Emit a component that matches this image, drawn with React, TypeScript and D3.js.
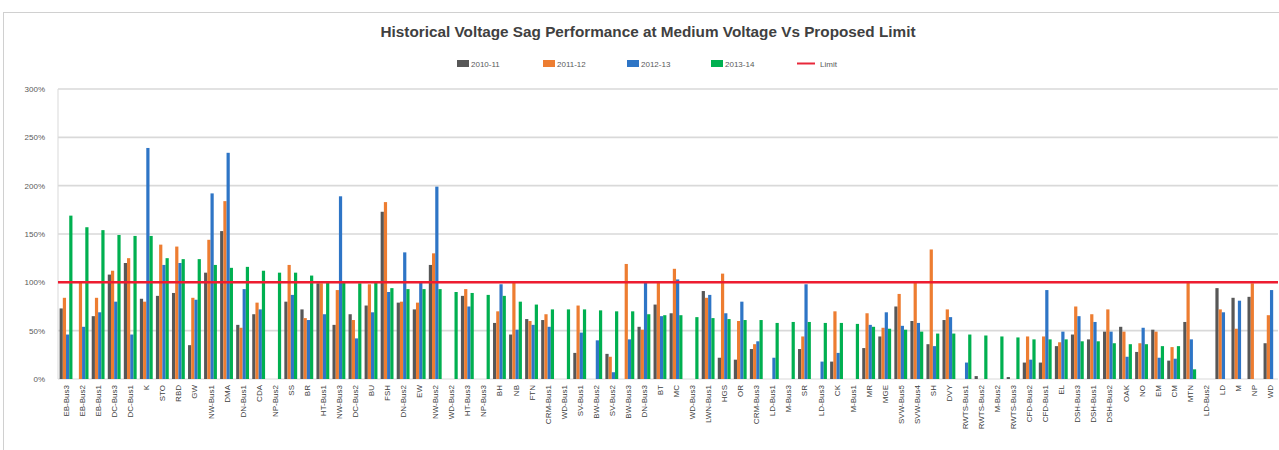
import React from "react";
import * as d3 from "d3";

const categories = [
  "EB-Bus3","EB-Bus2","EB-Bus1","DC-Bus3","DC-Bus1","K","STO","RBD","GW","NW-Bus1",
  "DMA","DN-Bus1","CDA","NP-Bus2","SS","BR","HT-Bus1","NW-Bus3","DC-Bus2","BU",
  "FSH","DN-Bus2","EW","NW-Bus2","WD-Bus2","HT-Bus3","NP-Bus3","BH","NB","FTN",
  "CRM-Bus1","WD-Bus1","SV-Bus1","BW-Bus2","SV-Bus2","BW-Bus3","DN-Bus3","BT","MC","WD-Bus3",
  "LWN-Bus1","HGS","OR","CRM-Bus3","LD-Bus1","M-Bus3","SR","LD-Bus3","CK","M-Bus1",
  "MR","MGE","SVW-Bus5","SVW-Bus4","SH","DVY","RWTS-Bus1","RWTS-Bus2","M-Bus2","RWTS-Bus3",
  "CFD-Bus2","CFD-Bus1","EL","DSH-Bus3","DSH-Bus1","DSH-Bus2","OAK","NO","EM","CM",
  "MTN","LD-Bus2","LD","M","NP","WD"
];

const y2010 = [
  73,0,65,108,120,83,86,89,35,110,
  153,56,67,0,80,72,99,56,67,76,
  173,79,72,118,0,86,0,58,46,62,
  61,0,27,0,26,0,54,77,68,0,
  91,22,20,31,0,0,31,0,18,0,
  32,44,75,60,36,61,0,3,0,2,
  17,17,34,46,41,49,54,28,51,19,
  59,0,94,84,85,37
];
const y2011 = [
  84,101,84,112,125,80,139,137,84,144,
  184,53,79,0,118,63,99,92,61,98,
  183,80,79,130,0,93,0,70,101,60,
  67,0,76,0,23,119,51,101,114,0,
  84,109,60,36,0,0,44,0,70,0,
  68,53,88,101,134,72,0,0,0,0,
  44,44,38,75,67,72,49,37,49,33,
  100,0,72,52,99,66
];
const y2012 = [
  46,54,69,80,46,239,118,120,82,192,
  234,93,72,0,87,61,67,189,42,69,
  90,131,101,199,0,75,0,98,51,56,
  54,0,48,40,7,41,100,65,103,0,
  87,68,80,39,22,0,98,18,27,0,
  56,69,55,58,34,64,17,0,0,0,
  20,92,49,65,59,49,23,53,22,21,
  41,0,69,81,0,92
];
const y2013 = [
  169,157,154,149,148,148,125,124,124,118,
  115,116,112,110,110,107,101,101,99,100,
  94,93,93,93,90,89,87,86,80,77,
  72,72,72,71,70,70,67,66,66,64,
  63,62,61,61,58,59,59,58,58,57,
  54,52,51,49,47,47,46,45,44,43,
  41,41,41,39,39,37,36,36,34,34,
  10,0,0,0,0,0
];
const limit = 100;

const seriesNames = ["2010-11", "2011-12", "2012-13", "2013-14"];
const seriesColors = ["#575757", "#ed7d31", "#2e75c6", "#00b050"];
const yTicks = [0, 50, 100, 150, 200, 250, 300];

const FONT = "'Liberation Sans', Arial, sans-serif";

export default function App() {
  const W = 1279, H = 450;
  const left = 58, right = 1278, top = 89, bottom = 379;
  const x = d3.scaleBand<string>().domain(categories).range([left, right]).paddingInner(0.2).paddingOuter(0.1);
  const xs = d3.scaleBand<string>().domain(seriesNames).range([0, x.bandwidth()]).padding(0);
  const y = d3.scaleLinear().domain([0, 300]).range([bottom, top]);
  const all = [y2010, y2011, y2012, y2013];

  const legendX = [457, 543, 627, 711];

  return (
    <svg width={W} height={H} style={{ position: "absolute", left: 0, top: 0, background: "#fff" }} fontFamily={FONT}>
      <rect x={3.5} y={12.5} width={1300} height={460} fill="#fff" stroke="#d0d0d0" />
      <text x={648} y={37} textAnchor="middle" fontSize={14.5} fontWeight="bold" fill="#404040" textLength={535} lengthAdjust="spacingAndGlyphs">
        Historical Voltage Sag Performance at Medium Voltage Vs Proposed Limit
      </text>
      {seriesNames.map((s, i) => (
        <g key={s}>
          <rect x={legendX[i]} y={60} width={12} height={7} fill={seriesColors[i]} />
          <text x={legendX[i] + 14} y={66.5} fontSize={8} fill="#595959">{s}</text>
        </g>
      ))}
      <line x1={797} x2={815} y1={63.5} y2={63.5} stroke="#e8283a" strokeWidth={2} />
      <text x={820} y={66.5} fontSize={8} fill="#595959">Limit</text>

      {yTicks.map((t) => (
        <g key={t}>
          <line x1={left} x2={right} y1={y(t)} y2={y(t)} stroke="#d9d9d9" strokeWidth={t === 0 ? 1 : 1.6} />
          <text x={45} y={y(t) + 3} textAnchor="end" fontSize={8} fill="#595959">{t}%</text>
        </g>
      ))}
      <line x1={left} x2={left} y1={top} y2={bottom} stroke="#d9d9d9" />

      {categories.map((c, ci) => (
        <g key={c} transform={`translate(${x(c)},0)`}>
          {all.map((arr, si) =>
            arr[ci] > 0 ? (
              <rect key={si} x={xs(seriesNames[si])} y={y(arr[ci])} width={xs.bandwidth()} height={bottom - y(arr[ci])} fill={seriesColors[si]} />
            ) : null
          )}
        </g>
      ))}

      <line x1={left} x2={right} y1={y(limit)} y2={y(limit)} stroke="#ee1c30" strokeWidth={2.5} />

      {categories.map((c) => {
        const cx = (x(c) as number) + x.bandwidth() / 2;
        return (
          <text key={c} transform={`translate(${cx + 3},385) rotate(-90)`} textAnchor="end" fontSize={8} fill="#404040">
            {c}
          </text>
        );
      })}
    </svg>
  );
}
